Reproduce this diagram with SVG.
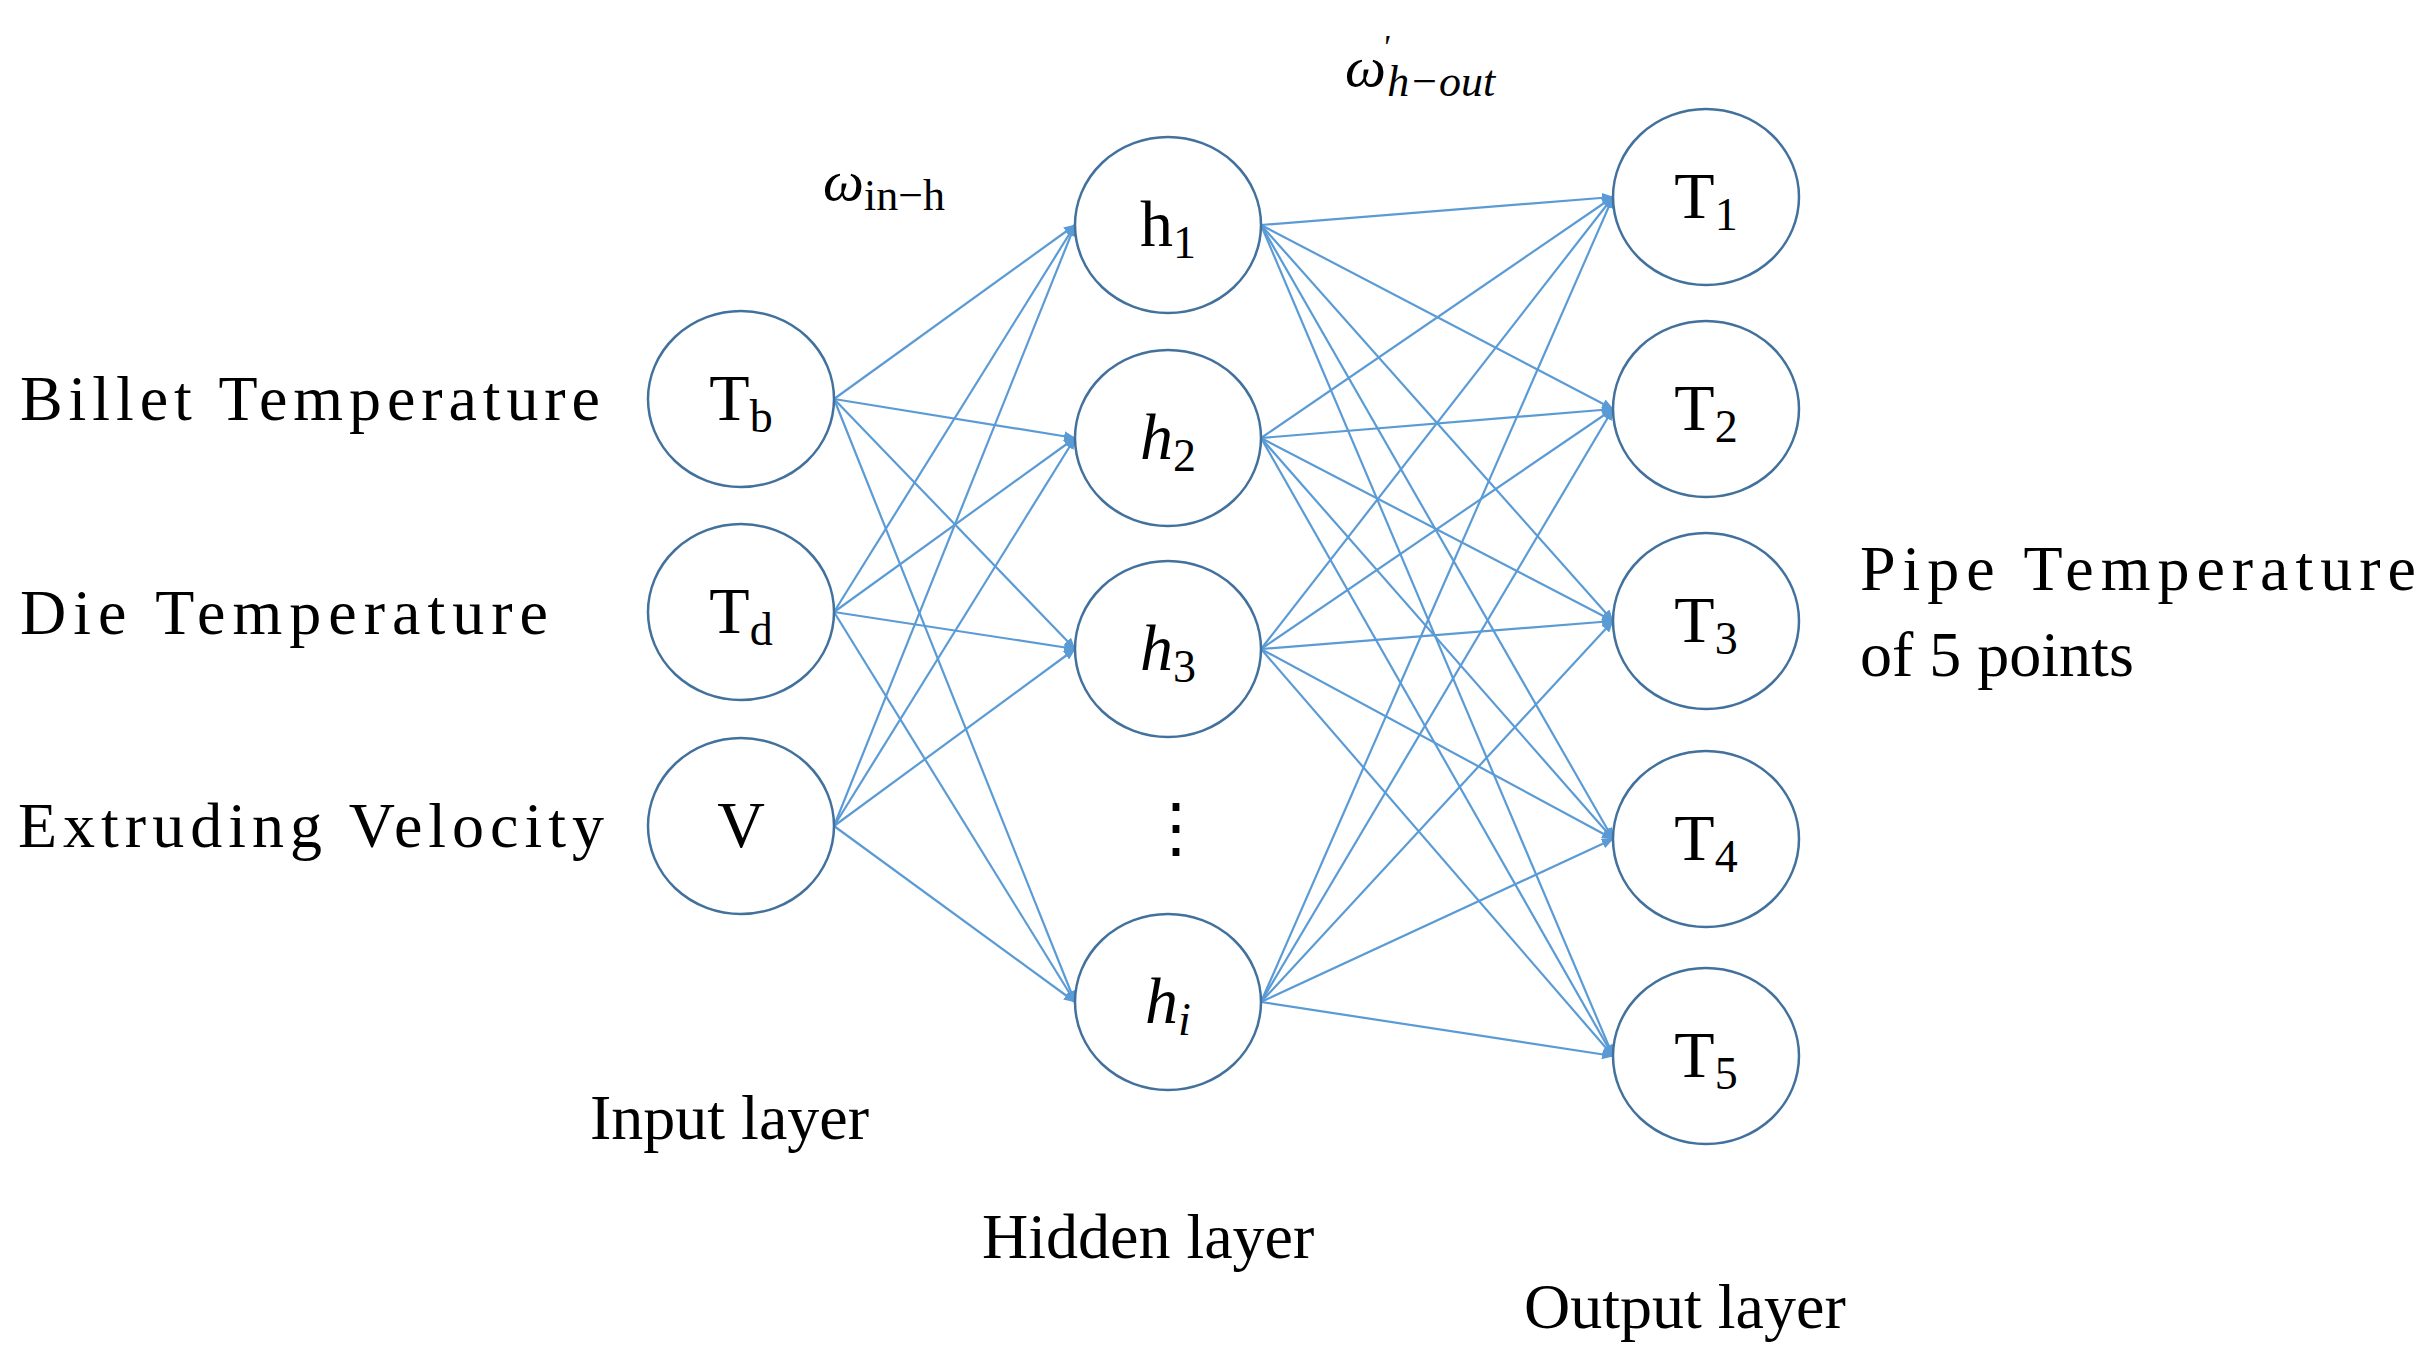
<svg xmlns="http://www.w3.org/2000/svg" width="2436" height="1367" viewBox="0 0 2436 1367">
<style>
.n{fill:#fff;stroke:#41719C;stroke-width:2.5}
.t{font-family:"Liberation Serif",serif;fill:#000}
.l{font-size:64px}
.nl{font-size:66px;text-anchor:middle}
.e line{stroke:#5B9BD5;stroke-width:2.2;marker-end:url(#a)}
</style>
<defs><marker id="a" markerWidth="12" markerHeight="10" refX="11" refY="5" orient="auto" markerUnits="userSpaceOnUse"><path d="M0,0L12,5L0,10z" fill="#5B9BD5"/></marker></defs>
<rect width="2436" height="1367" fill="#fff"/>
<g id="edges" class="e">
<line x1="834" y1="399" x2="1075" y2="225"/><line x1="834" y1="399" x2="1075" y2="438"/><line x1="834" y1="399" x2="1075" y2="649"/><line x1="834" y1="399" x2="1075" y2="1002"/>
<line x1="834" y1="612" x2="1075" y2="225"/><line x1="834" y1="612" x2="1075" y2="438"/><line x1="834" y1="612" x2="1075" y2="649"/><line x1="834" y1="612" x2="1075" y2="1002"/>
<line x1="834" y1="826" x2="1075" y2="225"/><line x1="834" y1="826" x2="1075" y2="438"/><line x1="834" y1="826" x2="1075" y2="649"/><line x1="834" y1="826" x2="1075" y2="1002"/>
<line x1="1261" y1="225" x2="1613" y2="197"/><line x1="1261" y1="225" x2="1613" y2="409"/><line x1="1261" y1="225" x2="1613" y2="621"/><line x1="1261" y1="225" x2="1613" y2="839"/><line x1="1261" y1="225" x2="1613" y2="1056"/>
<line x1="1261" y1="438" x2="1613" y2="197"/><line x1="1261" y1="438" x2="1613" y2="409"/><line x1="1261" y1="438" x2="1613" y2="621"/><line x1="1261" y1="438" x2="1613" y2="839"/><line x1="1261" y1="438" x2="1613" y2="1056"/>
<line x1="1261" y1="649" x2="1613" y2="197"/><line x1="1261" y1="649" x2="1613" y2="409"/><line x1="1261" y1="649" x2="1613" y2="621"/><line x1="1261" y1="649" x2="1613" y2="839"/><line x1="1261" y1="649" x2="1613" y2="1056"/>
<line x1="1261" y1="1002" x2="1613" y2="197"/><line x1="1261" y1="1002" x2="1613" y2="409"/><line x1="1261" y1="1002" x2="1613" y2="621"/><line x1="1261" y1="1002" x2="1613" y2="839"/><line x1="1261" y1="1002" x2="1613" y2="1056"/>
</g>
<g id="in_b"><ellipse class="n" cx="741" cy="399" rx="93" ry="88"/><text class="t nl" x="741" y="420">T<tspan font-size="46" dy="12">b</tspan></text></g>
<g id="in_d"><ellipse class="n" cx="741" cy="612" rx="93" ry="88"/><text class="t nl" x="741" y="633">T<tspan font-size="46" dy="12">d</tspan></text></g>
<g id="in_v"><ellipse class="n" cx="741" cy="826" rx="93" ry="88"/><text class="t nl" x="741" y="847">V</text></g>
<g id="h1"><ellipse class="n" cx="1168" cy="225" rx="93" ry="88"/><text class="t nl" x="1168" y="246">h<tspan font-size="46" dy="12">1</tspan></text></g>
<g id="h2"><ellipse class="n" cx="1168" cy="438" rx="93" ry="88"/><text class="t nl" x="1168" y="459" font-style="italic">h<tspan font-size="46" dy="12" font-style="normal">2</tspan></text></g>
<g id="h3"><ellipse class="n" cx="1168" cy="649" rx="93" ry="88"/><text class="t nl" x="1168" y="670" font-style="italic">h<tspan font-size="46" dy="12" font-style="normal">3</tspan></text></g>
<g id="hdots"><text class="t nl" x="1176" y="850">⋮</text></g>
<g id="hi"><ellipse class="n" cx="1168" cy="1002" rx="93" ry="88"/><text class="t nl" x="1168" y="1023" font-style="italic">h<tspan font-size="46" dy="12">i</tspan></text></g>
<g id="o1"><ellipse class="n" cx="1706" cy="197" rx="93" ry="88"/><text class="t nl" x="1706" y="218">T<tspan font-size="46" dy="12">1</tspan></text></g>
<g id="o2"><ellipse class="n" cx="1706" cy="409" rx="93" ry="88"/><text class="t nl" x="1706" y="430">T<tspan font-size="46" dy="12">2</tspan></text></g>
<g id="o3"><ellipse class="n" cx="1706" cy="621" rx="93" ry="88"/><text class="t nl" x="1706" y="642">T<tspan font-size="46" dy="12">3</tspan></text></g>
<g id="o4"><ellipse class="n" cx="1706" cy="839" rx="93" ry="88"/><text class="t nl" x="1706" y="860">T<tspan font-size="46" dy="12">4</tspan></text></g>
<g id="o5"><ellipse class="n" cx="1706" cy="1056" rx="93" ry="88"/><text class="t nl" x="1706" y="1077">T<tspan font-size="46" dy="12">5</tspan></text></g>
<g id="labels">
<text class="t l" x="20" y="420" textLength="580">Billet Temperature</text>
<text class="t l" x="20" y="634" textLength="528">Die Temperature</text>
<text class="t l" x="18" y="847" textLength="586">Extruding Velocity</text>
<text class="t l" x="590" y="1139">Input layer</text>
<text class="t l" x="982" y="1258">Hidden layer</text>
<text class="t l" x="1524" y="1328">Output layer</text>
<text class="t l" x="1860" y="590" textLength="556">Pipe Temperature</text>
<text class="t l" x="1860" y="676">of 5 points</text>
<text class="t" x="823" y="200" font-size="58" font-style="italic">ω<tspan font-style="normal" font-size="44" dy="10">in−h</tspan></text>
<text class="t" x="1345" y="86" font-size="58" font-style="italic">ω<tspan font-size="34" dy="-28" dx="-4">'</tspan><tspan font-size="44" dy="38" dx="-2">h−out</tspan></text>
</g>
</svg>
